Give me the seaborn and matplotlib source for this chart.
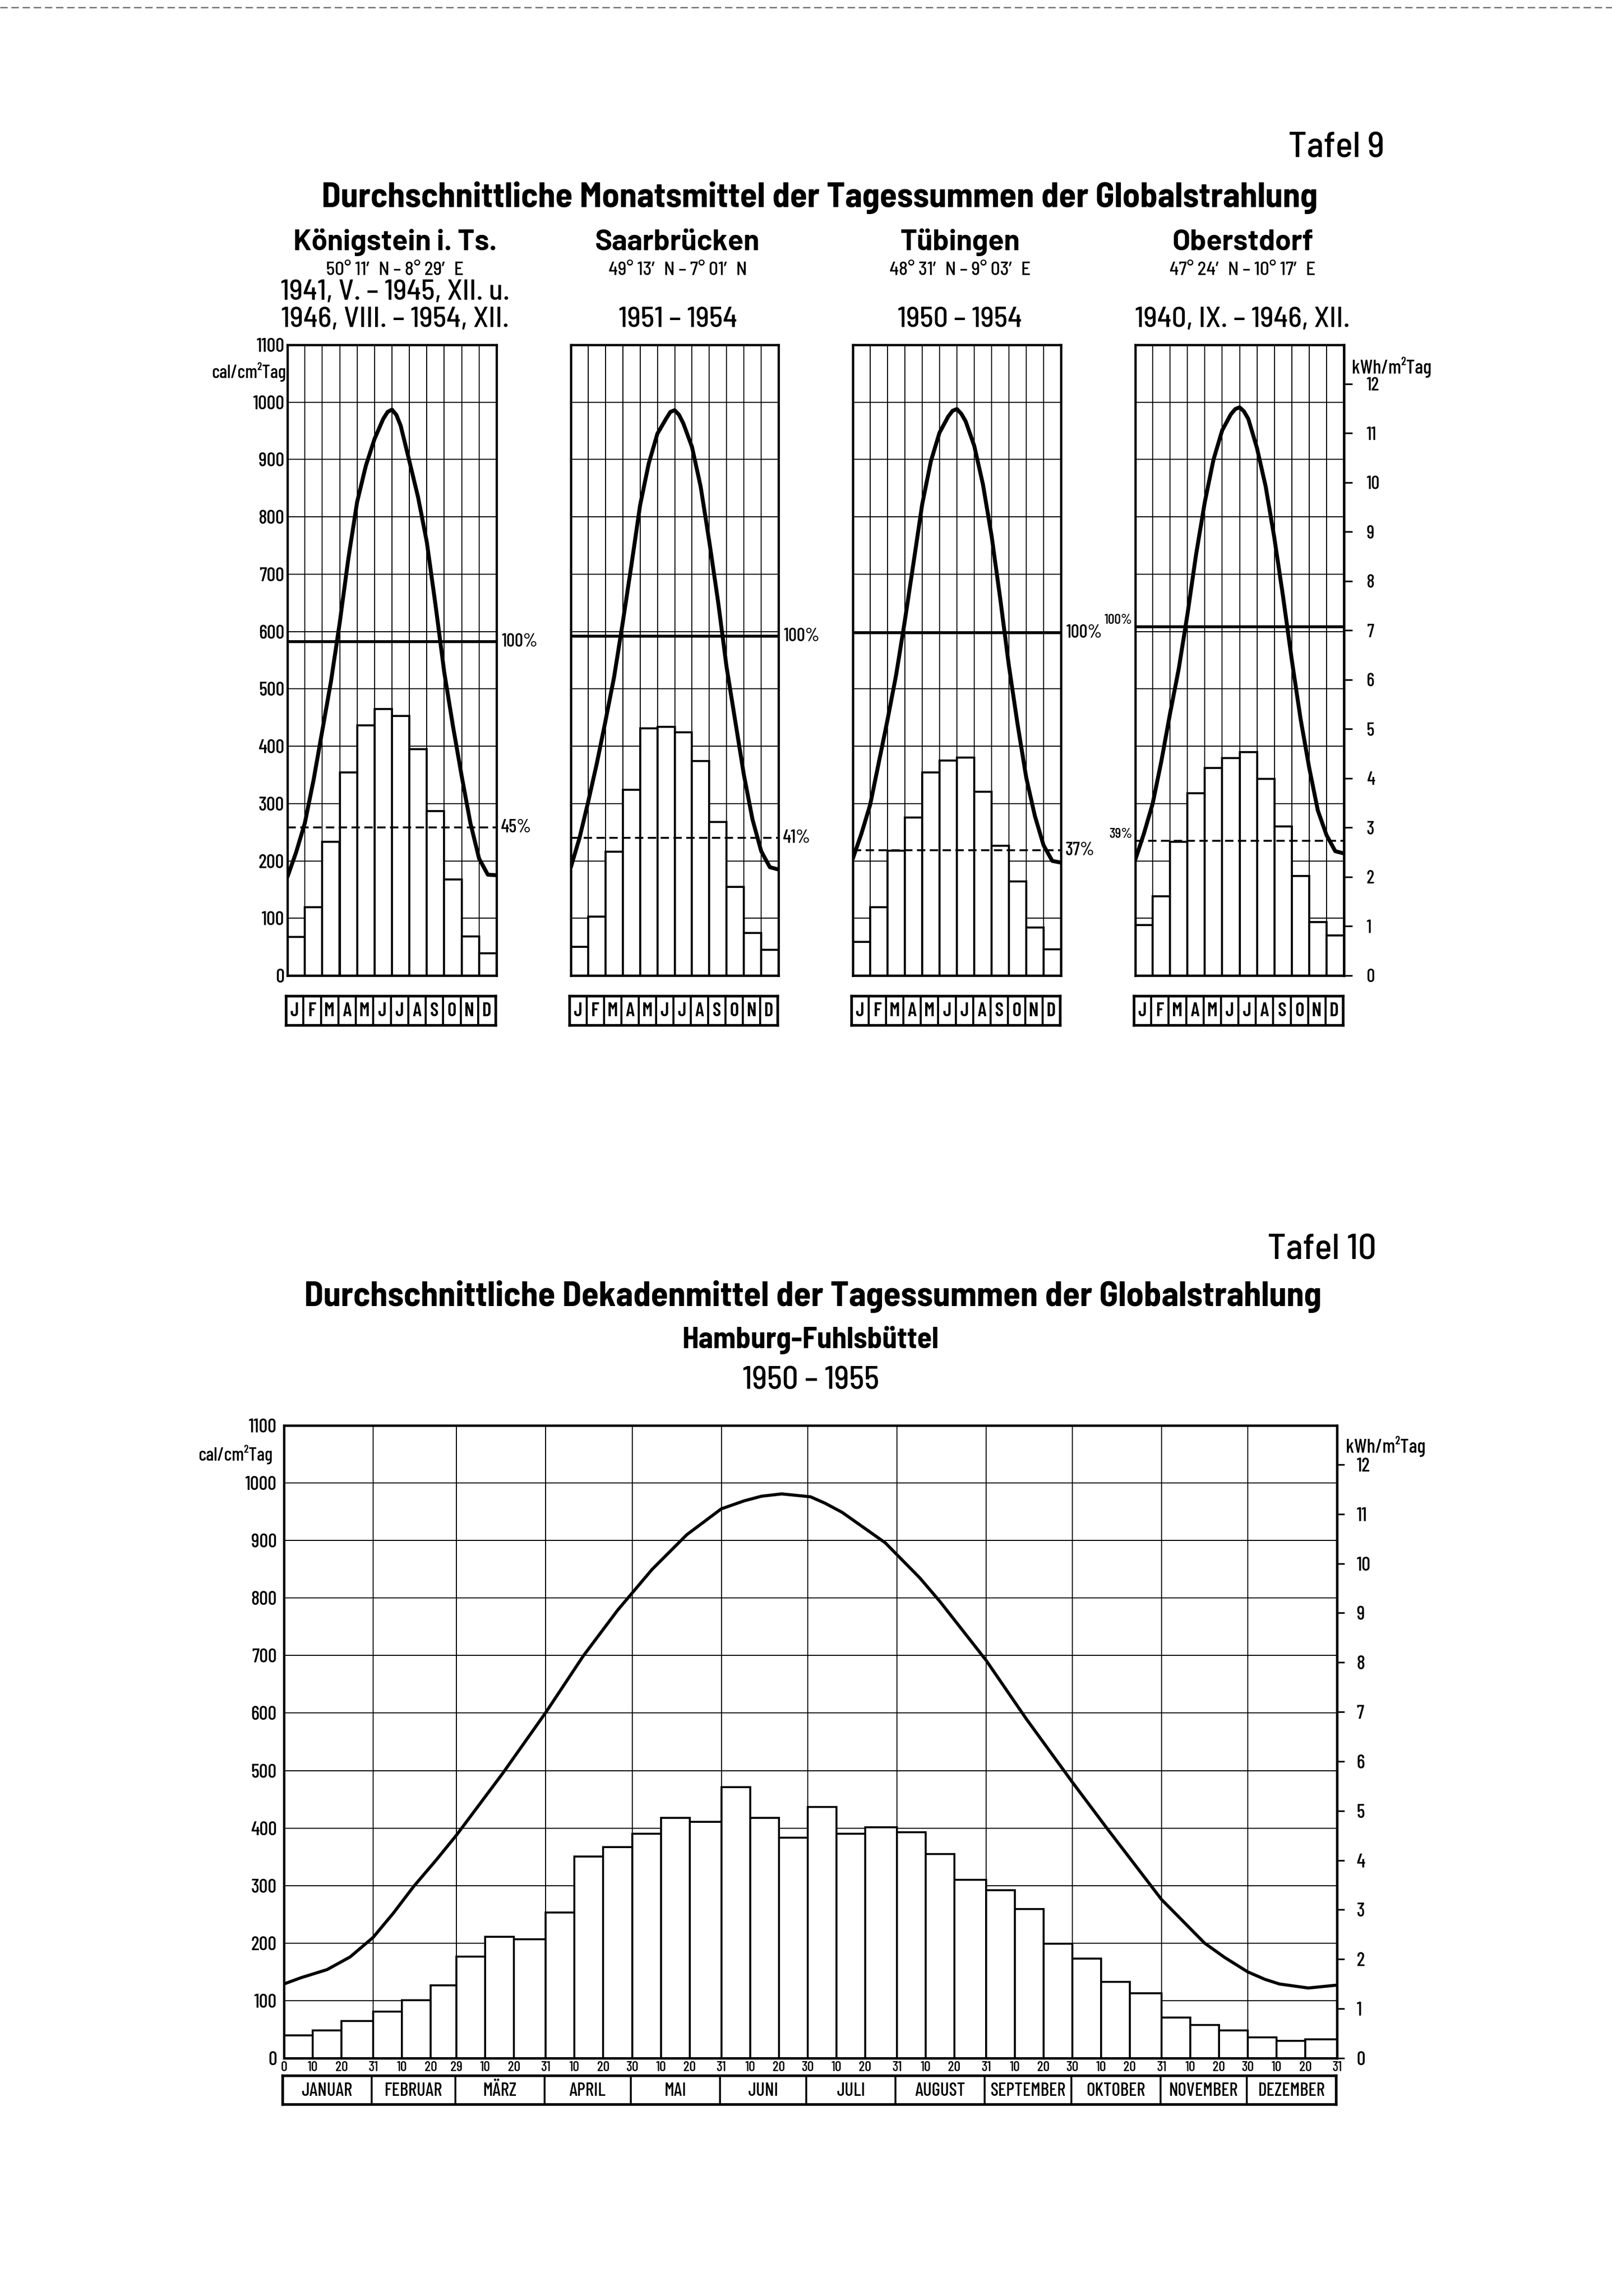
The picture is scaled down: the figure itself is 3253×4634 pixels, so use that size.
import numpy as np
import pandas as pd
import matplotlib
matplotlib.use('Agg')
import matplotlib.pyplot as plt
import seaborn as sns
from matplotlib.lines import Line2D

# ---- Tafel 9: monthly means of the daily sums of global radiation (cal/cm2 Tag) ----
month_letters = ['J', 'F', 'M', 'A', 'M', 'J', 'J', 'A', 'S', 'O', 'N', 'D']
stations = ['Königstein i. Ts.', 'Saarbrücken', 'Tübingen', 'Oberstdorf']
station_coords = ['50° 11′ N – 8° 29′ E', '49° 13′ N – 7° 01′ N',
                  '48° 31′ N – 9° 03′ E', '47° 24′ N – 10° 17′ E']
station_periods = [['1941, V. – 1945, XII. u.', '1946, VIII. – 1954, XII.'],
                   ['1951 – 1954'], ['1950 – 1954'], ['1940, IX. – 1946, XII.']]

koenigstein = [67, 119, 233, 354, 436, 465, 453, 395, 287, 168, 68, 39]
saarbruecken = [50, 103, 216, 324, 431, 434, 424, 374, 268, 155, 74, 45]
tuebingen = [59, 119, 218, 276, 354, 375, 380, 321, 226, 164, 84, 46]
oberstdorf = [88, 138, 233, 318, 362, 379, 390, 343, 260, 174, 93, 70]

level_100 = [582, 592, 598, 608]
level_pct = [258, 240, 219, 235]
pct_labels = ['45%', '41%', '37%', '39%']

# upper curve, read every half month (0 = 1 Jan, 12 = 31 Dec)
curve_month = [0, 0.5, 1, 1.5, 2, 2.5, 3, 3.5, 4, 4.5, 5, 5.5, 5.75, 6, 6.25,
               6.5, 7, 7.5, 8, 8.5, 9, 9.5, 10, 10.5, 11, 11.5, 12]
curve_koenigstein = [172, 215, 266, 341, 427, 513, 615, 728, 826, 889, 936, 971, 983, 987, 978,
                     959, 897, 834, 756, 646, 529, 435, 348, 266, 204, 176, 175]
curve_saarbruecken = [189, 240, 303, 370, 444, 521, 616, 716, 820, 893, 945, 971, 983, 986, 978,
                      963, 922, 853, 757, 654, 538, 444, 350, 272, 217, 189, 185]
curve_tuebingen = [204, 248, 298, 372, 446, 525, 619, 720, 822, 897, 947, 975, 985, 988, 980,
                   967, 924, 857, 767, 657, 540, 438, 345, 278, 227, 200, 197]
curve_oberstdorf = [202, 248, 300, 374, 457, 535, 630, 735, 826, 900, 951, 979, 988, 991, 984,
                    971, 920, 853, 763, 661, 551, 449, 363, 288, 245, 217, 213]

# ---- Tafel 10: Hamburg-Fuhlsbuettel, decade means ----
month_names = ['JANUAR', 'FEBRUAR', 'MÄRZ', 'APRIL', 'MAI', 'JUNI', 'JULI',
               'AUGUST', 'SEPTEMBER', 'OKTOBER', 'NOVEMBER', 'DEZEMBER']
month_edges = [0, 31, 60, 91, 121, 152, 182, 213, 244, 274, 305, 335, 366]
decade_edges = [0, 10, 20, 31, 41, 51, 60, 70, 80, 91, 101, 111, 121, 131, 141, 152,
                162, 172, 182, 192, 202, 213, 223, 233, 244, 254, 264, 274, 284, 294,
                305, 315, 325, 335, 345, 355, 366]
decade_labels = ['0', '10', '20', '31', '10', '20', '29', '10', '20', '31', '10', '20',
                 '30', '10', '20', '31', '10', '20', '30', '10', '20', '31', '10', '20',
                 '31', '10', '20', '30', '10', '20', '31', '10', '20', '30', '10', '20', '31']
hamburg = [40, 48, 65, 81, 101, 127, 177, 211, 207, 253, 351, 367, 390, 418, 411,
           471, 418, 383, 437, 390, 401, 393, 355, 310, 292, 259, 199, 173, 133, 113,
           71, 58, 48, 36, 30, 33]
hamburg_curve_day = [0, 6, 15, 23, 31, 38, 45, 53, 60, 76, 91, 104, 116, 128, 140, 152,
                     160, 166, 173, 183, 188, 194, 209, 221, 228, 244, 258, 274, 286, 305,
                     320, 327, 335, 341, 346, 356, 366]
hamburg_curve = [129, 140, 154, 176, 210, 252, 298, 345, 388, 495, 601, 699, 779, 850, 910, 955,
                 969, 977, 981, 976, 965, 949, 896, 835, 794, 692, 590, 480, 400, 276,
                 200, 175, 150, 137, 129, 122, 127]

monthly = [koenigstein, saarbruecken, tuebingen, oberstdorf]
curves = [curve_koenigstein, curve_saarbruecken, curve_tuebingen, curve_oberstdorf]
month_bins = [0, 1, 2, 3, 4, 5, 6, 7, 8, 9, 10, 11, 12]

sns.set_theme(style='white')
COND = ['Barlow Condensed', 'DejaVu Sans']
SEMI = ['Barlow Semi Condensed', 'Barlow Condensed', 'DejaVu Sans']
WIDE = ['Barlow', 'Barlow Semi Condensed', 'Barlow Condensed', 'DejaVu Sans']
plt.rcParams['font.family'] = COND
plt.rcParams['font.weight'] = 'medium'
plt.rcParams['text.color'] = 'black'
plt.rcParams['xtick.color'] = 'black'
plt.rcParams['ytick.color'] = 'black'

PW, PH = 3253, 4634
fig = plt.figure(figsize=(PW / 300, PH / 300), dpi=300)
fig.patch.set_facecolor('white')


def rect(x0, y0, x1, y1):
    return [x0 / PW, 1 - y1 / PH, (x1 - x0) / PW, (y1 - y0) / PH]


def put(x, y, s, **kw):
    fig.text(x / PW, 1 - y / PH, s, **kw)


def kwh(v):
    return v / 86.0


def cal(v):
    return v * 86.0


# scan edge
fig.add_artist(Line2D([0, 1], [1 - 15 / PH, 1 - 15 / PH], transform=fig.transFigure,
                      color='#666666', lw=0.6, dashes=(6, 3)))

# headers
put(2794, 317, 'Tafel 9', ha='right', va='baseline', fontsize=17.5, fontweight='medium',
    family=SEMI)
put(1654, 418, 'Durchschnittliche Monatsmittel der Tagessummen der Globalstrahlung',
    ha='center', va='baseline', fontsize=17, fontweight='bold', family=SEMI)

panel_x = [(580, 1002), (1152, 1571), (1721, 2141), (2291, 2712)]
top_y = (696, 1969)
row_y = (2010, 2069)

for i in range(4):
    x0, x1 = panel_x[i]
    xc = (x0 + x1) / 2 + 6
    put(xc, 505, stations[i], ha='center', va='baseline', fontsize=14, fontweight='bold',
        family=WIDE)
    put(xc, 555, station_coords[i], ha='center', va='baseline', fontsize=9, family=SEMI)
    if len(station_periods[i]) == 2:
        put(xc, 605, station_periods[i][0], ha='center', va='baseline', fontsize=14,
            family=SEMI)
    put(xc, 660, station_periods[i][-1], ha='center', va='baseline', fontsize=14,
        family=SEMI)

    ax = fig.add_axes(rect(x0, top_y[0], x1, top_y[1]))
    df = pd.DataFrame({'month': [k + 0.5 for k in range(12)], 'value': monthly[i]})
    sns.histplot(data=df, x='month', weights='value', bins=month_bins, ax=ax,
                 color='white', edgecolor='black', linewidth=1.0, alpha=1)
    cdf = pd.DataFrame({'t': curve_month, 'v': curves[i]})
    sns.lineplot(data=cdf, x='t', y='v', ax=ax, color='black', linewidth=1.9,
                 sort=False, zorder=5)
    ax.axhline(level_100[i], color='black', lw=1.4, zorder=4)
    ax.axhline(level_pct[i], color='black', lw=0.9, dashes=(4.5, 2.4), zorder=4)

    ax.set_xlim(0, 12)
    ax.set_ylim(0, 1100)
    ax.set_xticks(month_bins)
    ax.set_yticks(np.arange(0, 1101, 100))
    ax.grid(True, color='black', lw=0.5)
    ax.set_axisbelow(True)
    ax.set_xlabel('')
    ax.set_ylabel('')
    ax.tick_params(length=0, labelbottom=False)
    for s in ax.spines.values():
        s.set_visible(True)
        s.set_color('black')
        s.set_linewidth(1.1)
    if i == 0:
        ax.tick_params(axis='y', labelsize=9.5, pad=1.5, labelcolor='black')
    else:
        ax.tick_params(labelleft=False)

    if i < 3:
        ax.text(1.025, level_100[i], '100%', transform=ax.get_yaxis_transform(),
                ha='left', va='center', fontsize=9)
        ax.text(1.02, level_pct[i], pct_labels[i], transform=ax.get_yaxis_transform(),
                ha='left', va='center', fontsize=9)
    else:
        ax.text(-0.015, level_100[i], '100%', transform=ax.get_yaxis_transform(),
                ha='right', va='bottom', fontsize=7)
        ax.text(-0.015, level_pct[i], pct_labels[i], transform=ax.get_yaxis_transform(),
                ha='right', va='bottom', fontsize=7)
        sec = ax.secondary_yaxis('right', functions=(kwh, cal))
        sec.set_yticks(range(13))
        sec.tick_params(length=4, width=0.8, direction='out', labelsize=9, pad=7,
                        colors='black')
        put(2728, 741, 'kWh/m²Tag', ha='left', va='center', fontsize=9.5)

    rax = fig.add_axes(rect(x0 - 3, row_y[0], x1 - 2, row_y[1]))
    rax.set_xlim(0, 12)
    rax.set_ylim(0, 1)
    for k in range(1, 12):
        rax.axvline(k, color='black', lw=1.0)
    for k, m in enumerate(month_letters):
        rax.text(k + 0.5, 0.47, m, ha='center', va='center', fontsize=9.5, fontweight='semibold')
    rax.set_xticks([])
    rax.set_yticks([])
    for s in rax.spines.values():
        s.set_visible(True)
        s.set_color('black')
        s.set_linewidth(1.3)

put(577, 750, 'cal/cm²Tag', ha='right', va='center', fontsize=9)

# ---- Tafel 10 ----
put(2777, 2542, 'Tafel 10', ha='right', va='baseline', fontsize=17.5, fontweight='medium',
    family=SEMI)
put(1640, 2636, 'Durchschnittliche Dekadenmittel der Tagessummen der Globalstrahlung',
    ha='center', va='baseline', fontsize=17, fontweight='bold', family=SEMI)
put(1636, 2721, 'Hamburg-Fuhlsbüttel', ha='center', va='baseline', fontsize=14.5,
    fontweight='bold', family=SEMI)
put(1636, 2803, '1950 – 1955', ha='center', va='baseline', fontsize=15.5, family=SEMI)

bx = fig.add_axes(rect(573, 2877, 2698, 4154))
mids = [(a + b) / 2 for a, b in zip(decade_edges[:-1], decade_edges[1:])]
hdf = pd.DataFrame({'day': mids, 'value': hamburg})
sns.histplot(data=hdf, x='day', weights='value', bins=decade_edges, ax=bx,
             color='white', edgecolor='black', linewidth=0.95, alpha=1)
hcdf = pd.DataFrame({'d': hamburg_curve_day, 'v': hamburg_curve})
sns.lineplot(data=hcdf, x='d', y='v', ax=bx, color='black', linewidth=1.5,
             sort=False, zorder=5)
for d in month_edges[1:-1]:
    bx.axvline(d, color='black', lw=0.5, zorder=0.6)
bx.set_xlim(0, 366)
bx.set_ylim(0, 1100)
bx.set_yticks(np.arange(0, 1101, 100))
bx.set_xticks(decade_edges, labels=decade_labels)
bx.grid(True, axis='y', color='black', lw=0.5)
bx.set_axisbelow(True)
bx.set_xlabel('')
bx.set_ylabel('')
bx.tick_params(axis='x', length=0, labelsize=7, pad=1.5, labelcolor='black')
bx.tick_params(axis='y', length=0, labelsize=9.5, pad=3.5, labelcolor='black')
for s in bx.spines.values():
    s.set_visible(True)
    s.set_color('black')
    s.set_linewidth(1.15)
bsec = bx.secondary_yaxis('right', functions=(kwh, cal))
bsec.set_yticks(range(13))
bsec.tick_params(length=3.5, width=0.8, direction='out', labelsize=9.5, pad=6,
                 colors='black')
put(550, 2935, 'cal/cm²Tag', ha='right', va='center', fontsize=9)
put(2716, 2919, 'kWh/m²Tag', ha='left', va='center', fontsize=9.5)

mrow = fig.add_axes(rect(570, 4189, 2696, 4247))
mrow.set_xlim(0, 366)
mrow.set_ylim(0, 1)
for d in month_edges[1:-1]:
    mrow.axvline(d, color='black', lw=0.9)
for k, name in enumerate(month_names):
    mrow.text((month_edges[k] + month_edges[k + 1]) / 2, 0.47, name, ha='center',
              va='center', fontsize=9)
mrow.set_xticks([])
mrow.set_yticks([])
for s in mrow.spines.values():
    s.set_visible(True)
    s.set_color('black')
    s.set_linewidth(1.3)

fig.savefig('out.png', dpi=300, facecolor='white')
